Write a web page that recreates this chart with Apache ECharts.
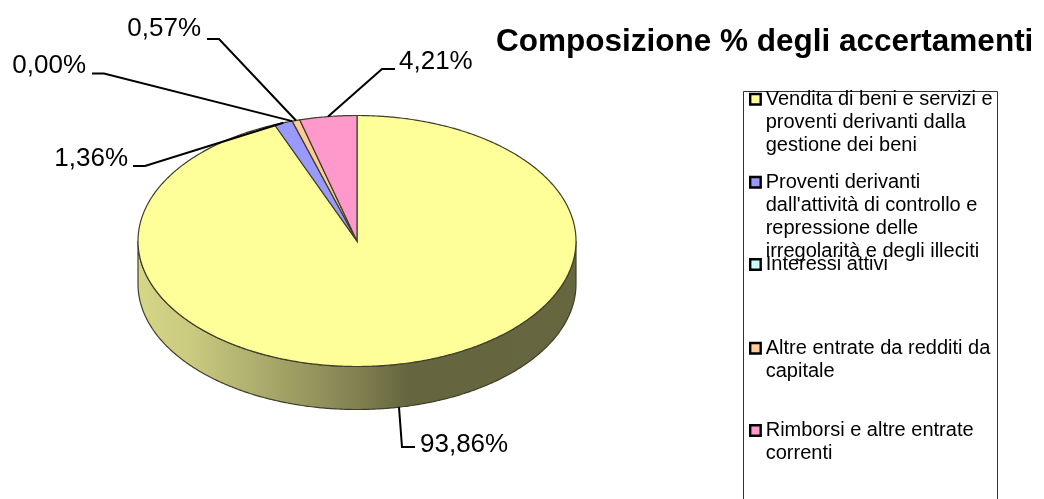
<!DOCTYPE html>
<html><head><meta charset="utf-8">
<style>html,body{margin:0;padding:0;background:#fff}#c{width:1044px;height:499px}</style>
<script src="https://cdn.jsdelivr.net/npm/echarts@6/dist/echarts.min.js"></script>
</head><body><div id="c"></div>
<script>
var categories = [
  "Vendita di beni e servizi e\nproventi derivanti dalla\ngestione dei beni",
  "Proventi derivanti\ndall'attività di controllo e\nrepressione delle\nirregolarità e degli illeciti",
  "Interessi attivi",
  "Altre entrate da redditi da\ncapitale",
  "Rimborsi e altre entrate\ncorrenti"
];
var values = [93.86, 1.36, 0.00, 0.57, 4.21];
var titleText = "Composizione % degli accertamenti";

var colors = ["#FFFF99", "#9999FF", "#CCFFFF", "#FFCC99", "#FF99CC"];
var pie = {cx: 357, cy: 241, rx: 219, ry: 125.5, depth: 43};
var edge = "#3f3f2a";
// label anchor (text end) and leader elbows
var labelLayout = [
  {x: 420, y: 432, align: "left",  elbow: [[402, 447], [415, 447]]},
  {x: 128, y: 146, align: "right", elbow: [[145, 166], [133, 166]]},
  {x: 86,  y: 53,  align: "right", elbow: [[104, 73.5], [92, 73.5]]},
  {x: 201, y: 16,  align: "right", elbow: [[219, 39], [207, 39]]},
  {x: 399, y: 49,  align: "left",  elbow: [[382, 69], [395, 69]]}
];
var legendMarkerY = [99.2, 182.2, 264.5, 348.2, 430.5];
var legendLine = 23;

var total = values.reduce(function (a, b) { return a + b; }, 0);
function pt(deg, dy) {
  var r = deg * Math.PI / 180;
  return [pie.cx + pie.rx * Math.sin(r), pie.cy - pie.ry * Math.cos(r) + (dy || 0)];
}
function arc(a, b, dy) {
  var out = [], n = Math.max(2, Math.ceil(Math.abs(b - a) * 2));
  for (var i = 0; i <= n; i++) out.push(pt(a + (b - a) * i / n, dy));
  return out;
}
function range(idx) {
  var s = 0;
  for (var i = 0; i < idx; i++) s += values[i];
  return [s / total * 360, (s + values[idx]) / total * 360];
}
var sideFill = {
  type: "linear", global: true, x: pie.cx - pie.rx, y: 0, x2: pie.cx + pie.rx, y2: 0,
  colorStops: [
    {offset: 0, color: "#d6d688"},
    {offset: 0.12, color: "#caca80"},
    {offset: 0.3, color: "#a8a86a"},
    {offset: 0.5, color: "#818152"},
    {offset: 0.62, color: "#65653f"},
    {offset: 1, color: "#66663f"}
  ]
};

function makeRender(idx) {
  return function (params, api) {
    var v = api.value(0), rg = range(idx), a = rg[0], b = rg[1];
    var kids = [];
    var sa = Math.max(a, 90), sb = Math.min(b, 270);
    if (sb > sa) {
      var lower = arc(sb, sa, pie.depth);
      kids.push({
        type: "polygon", shape: {points: arc(sa, sb, 0).concat(lower)},
        style: {fill: sideFill, stroke: edge, lineWidth: 1.2}
      });
    }
    if (b > a) {
      kids.push({
        type: "polygon", shape: {points: [[pie.cx, pie.cy]].concat(arc(a, b, 0))},
        style: {fill: colors[idx], stroke: edge, lineWidth: 1.2}
      });
    }
    var mid = (a + b) / 2;
    var start = pt(mid, mid > 90 && mid < 270 ? pie.depth : 0);
    var lay = labelLayout[idx];
    kids.push({
      type: "polyline", z2: 20,
      shape: {points: [start].concat(lay.elbow)},
      style: {fill: "none", stroke: "#000", lineWidth: 2}
    });
    kids.push({
      type: "text", z2: 21, x: lay.x, y: lay.y,
      style: {
        text: v.toFixed(2).replace(".", ",") + "%",
        fill: "#000", font: "26px 'Liberation Sans', Arial, sans-serif",
        align: lay.align, verticalAlign: "top"
      }
    });
    return {type: "group", children: kids};
  };
}

var series = categories.map(function (name, i) {
  return {
    type: "custom", name: name, coordinateSystem: "none",
    renderItem: makeRender(i), data: [[values[i]]],
    itemStyle: {color: colors[i]}, z: 2 + (i === 0 ? 0 : 1),
    animation: false, silent: true
  };
});

var legends = categories.map(function (name, i) {
  var n = name.split("\n").length;
  return {
    show: true, orient: "vertical", left: 749,
    top: legendMarkerY[i] - (2 * n - 1) * legendLine / 2,
    padding: 0, data: [name], selectedMode: false,
    icon: "rect", itemWidth: 10.5, itemHeight: 10.5,
    itemStyle: {borderColor: "#000", borderWidth: 2.4},
    // marker sits beside the first text line
    formatter: function (t) { return new Array(n).join("\n") + t; },
    textStyle: {fontFamily: "'Liberation Sans', Arial, sans-serif", fontSize: 20, lineHeight: legendLine, color: "#000"}
  };
});

var chart = echarts.init(document.getElementById("c"), null, {renderer: "canvas"});
chart.setOption({
  animation: false,
  backgroundColor: "#fff",
  title: {
    text: titleText, left: 496, top: 26, padding: 0,
    textStyle: {fontFamily: "'Liberation Sans', Arial, sans-serif", fontSize: 31.5, fontWeight: "bold", color: "#000"}
  },
  legend: legends,
  graphic: [{
    type: "polyline", z: 0, silent: true,
    shape: {points: [[743.5, 499], [743.5, 91.5], [997.5, 91.5], [997.5, 499]]},
    style: {fill: "none", stroke: "#333", lineWidth: 1}
  }],
  series: series
});
</script></body></html>
